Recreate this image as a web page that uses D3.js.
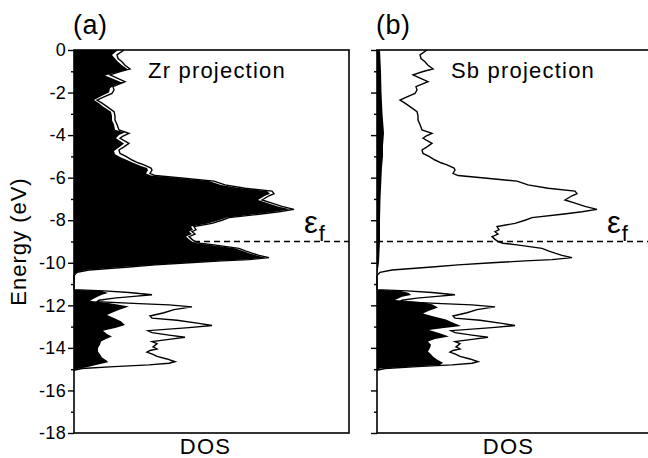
<!DOCTYPE html>
<html>
<head>
<meta charset="utf-8">
<script src="https://cdn.jsdelivr.net/npm/d3@7/dist/d3.min.js"></script>
<style>
    body { margin: 0; background: #fff; }
    svg { display: block; font-family: "Liberation Sans", Arial, sans-serif; }
</style>
</head>
<body>
<div id="chart"></div>
<script>
// [energy (eV), DOS (arb. units)]
// total DOS, drawn as the outline in both panels
const totalDOS = [
    [0, 5.0], [-0.23, 4.3], [-0.4, 4.4], [-0.55, 4.8], [-0.72, 5.1], [-0.89, 5.6], [-1.0, 4.7],
    [-1.17, 3.6], [-1.3, 4.2], [-1.49, 5.1], [-1.6, 4.5], [-1.72, 3.9], [-1.88, 4.0], [-2.04, 3.8],
    [-2.2, 3.0], [-2.35, 2.3], [-2.5, 2.8], [-2.66, 3.3], [-2.9, 4.0], [-3.1, 4.1], [-3.29, 4.1],
    [-3.5, 4.3], [-3.76, 4.5], [-3.92, 5.5], [-4.05, 4.9], [-4.15, 4.6], [-4.39, 5.5], [-4.55, 5.0],
    [-4.7, 4.5], [-4.86, 4.6], [-5.0, 5.2], [-5.17, 5.8], [-5.3, 6.4], [-5.4, 7.0], [-5.55, 7.7],
    [-5.64, 7.8], [-5.8, 7.6], [-5.9, 8.1], [-6.03, 11.0], [-6.16, 14.0], [-6.34, 15.1], [-6.5, 17.1],
    [-6.63, 19.8], [-6.75, 20.0], [-6.85, 19.5], [-7.05, 18.8], [-7.2, 19.8], [-7.35, 20.8],
    [-7.49, 22.0], [-7.6, 20.5], [-7.72, 18.5], [-7.88, 15.5], [-8.0, 14.8], [-8.15, 13.8],
    [-8.3, 12.0], [-8.45, 12.2], [-8.54, 11.8], [-8.65, 12.1], [-8.77, 11.5], [-8.9, 11.8],
    [-9.0, 12.1], [-9.08, 12.6], [-9.16, 14.0], [-9.32, 16.5], [-9.45, 17.2], [-9.55, 17.8],
    [-9.65, 18.5], [-9.76, 19.5], [-9.85, 17.5], [-9.91, 14.8], [-10.0, 11.5], [-10.1, 8.1],
    [-10.2, 5.5], [-10.34, 1.5], [-10.45, 0.3], [-10.6, 0], [-11.26, 0], [-11.32, 3.0],
    [-11.4, 5.5], [-11.5, 7.8], [-11.58, 6.0], [-11.66, 4.0], [-11.76, 2.5], [-11.83, 2.3],
    [-11.92, 6.5], [-11.98, 9.5], [-12.07, 11.8], [-12.2, 10.0], [-12.35, 9.0], [-12.5, 7.6],
    [-12.6, 7.8], [-12.7, 10.3], [-12.85, 12.5], [-12.95, 13.8], [-13.05, 11.5], [-13.19, 7.4],
    [-13.28, 7.8], [-13.4, 9.5], [-13.5, 11.1], [-13.6, 9.5], [-13.7, 7.8], [-13.8, 8.3],
    [-13.88, 8.1], [-13.95, 7.9], [-14.05, 8.3], [-14.12, 7.6], [-14.2, 7.3], [-14.3, 7.9],
    [-14.4, 8.3], [-14.52, 9.3], [-14.65, 10.1], [-14.72, 9.5], [-14.8, 7.5], [-14.88, 4.0],
    [-14.97, 0.8], [-15.05, 0]
];

// Zr projected DOS, panel (a)
const zrDOS = [
    [0, 4.4], [-0.23, 3.8], [-0.4, 4.1], [-0.55, 4.4], [-0.72, 4.8], [-0.92, 5.4], [-1.05, 4.3],
    [-1.2, 3.1], [-1.35, 3.9], [-1.55, 4.9], [-1.65, 4.1], [-1.8, 3.6], [-2.0, 3.5], [-2.15, 2.8],
    [-2.35, 2.0], [-2.5, 2.5], [-2.66, 2.9], [-2.9, 3.7], [-3.1, 3.8], [-3.3, 3.8], [-3.5, 4.0],
    [-3.75, 4.1], [-3.88, 5.1], [-4.0, 4.5], [-4.15, 4.2], [-4.4, 5.0], [-4.55, 4.6], [-4.75, 4.0],
    [-4.9, 4.1], [-5.05, 4.7], [-5.17, 5.3], [-5.3, 5.9], [-5.45, 6.7], [-5.55, 7.3], [-5.65, 7.4],
    [-5.8, 7.2], [-5.9, 7.7], [-6.03, 10.6], [-6.16, 13.5], [-6.34, 14.7], [-6.5, 16.7],
    [-6.63, 19.3], [-6.75, 19.6], [-6.85, 19.1], [-7.05, 18.4], [-7.2, 19.4], [-7.35, 20.4],
    [-7.49, 21.6], [-7.6, 20.1], [-7.72, 18.1], [-7.88, 15.2], [-8.0, 14.5], [-8.15, 13.4],
    [-8.3, 11.7], [-8.45, 11.9], [-8.54, 11.5], [-8.65, 11.8], [-8.77, 11.2], [-8.9, 11.5],
    [-9.0, 11.8], [-9.08, 12.3], [-9.16, 13.7], [-9.32, 16.1], [-9.45, 16.9], [-9.55, 17.5],
    [-9.65, 18.2], [-9.76, 19.2], [-9.85, 17.2], [-9.91, 14.5], [-10.0, 11.2], [-10.1, 7.8],
    [-10.2, 4.8], [-10.34, 1.2], [-10.45, 0.3], [-10.57, 0], [-11.27, 0], [-11.33, 2.8],
    [-11.42, 3.4], [-11.5, 2.8], [-11.58, 2.4], [-11.68, 2.0], [-11.78, 1.6], [-11.9, 3.6],
    [-12.05, 5.5], [-12.2, 4.6], [-12.35, 3.8], [-12.45, 3.3], [-12.6, 4.0], [-12.75, 4.7],
    [-12.92, 5.1], [-13.05, 4.2], [-13.2, 2.9], [-13.35, 3.3], [-13.46, 3.8], [-13.58, 3.2],
    [-13.7, 2.7], [-13.85, 2.6], [-14.0, 2.4], [-14.17, 2.4], [-14.3, 2.6], [-14.45, 2.8],
    [-14.6, 3.3], [-14.68, 3.4], [-14.8, 2.2], [-14.9, 1.4], [-15.03, 0]
];

// Sb projected DOS, panel (b)
const sbDOS = [
    [0, 0.3], [-1, 0.4], [-2, 0.45], [-3, 0.55], [-3.9, 0.7], [-4.5, 0.6], [-5, 0.6],
    [-5.5, 0.5], [-6, 0.45], [-7, 0.35], [-8, 0.3], [-9, 0.3], [-10, 0.2], [-10.3, 0.1],
    [-10.5, 0], [-11.27, 0], [-11.33, 2.4], [-11.42, 3.2], [-11.51, 3.4], [-11.6, 2.5],
    [-11.75, 1.8], [-11.85, 4.6], [-11.95, 5.5], [-12.1, 6.1], [-12.25, 5.2], [-12.38, 4.6],
    [-12.5, 5.5], [-12.66, 6.9], [-12.8, 7.5], [-12.97, 8.4], [-13.08, 6.5], [-13.16, 5.2],
    [-13.3, 6.2], [-13.47, 7.2], [-13.58, 5.8], [-13.7, 5.1], [-13.85, 5.4], [-14.0, 5.3],
    [-14.17, 5.1], [-14.3, 5.4], [-14.4, 5.6], [-14.55, 6.0], [-14.7, 6.6], [-14.8, 6.3],
    [-14.9, 3.0], [-14.97, 0.3], [-15.03, 0]
];

const majorTicks = [0, -2, -4, -6, -8, -10, -12, -14, -16, -18];
const minorTicks = [-1, -3, -5, -7, -9, -11, -13, -15, -17];
const panelLabels = ["(a)", "(b)"];
const projectionNames = ["Zr projection", "Sb projection"];
const projectedSeries = [zrDOS, sbDOS];
const fermiEnergy = -9;
const dosMax = 27.5;

let width = 648,
    height = 458,
    plotTop = 50,
    plotBottom = 433,
    panelWidth = 275,
    panelLefts = [74, 377];

let svg = d3.select("#chart").append("svg")
    .attr("width", width)
    .attr("height", height);

let y = d3.scaleLinear()
    .domain([0, -18])
    .range([plotTop, plotBottom]);

// y axis title
svg.append("text")
    .attr("transform", `translate(26,${(plotTop + plotBottom) / 2}) rotate(-90)`)
    .attr("text-anchor", "middle")
    .attr("font-size", 22)
    .attr("letter-spacing", 1)
    .text("Energy (eV)");

panelLefts.forEach((left, i) => {
    let x = d3.scaleLinear()
        .domain([0, dosMax])
        .range([left, left + panelWidth]);

    let g = svg.append("g");

    // Fermi level
    g.append("line")
        .attr("x1", x(0))
        .attr("x2", x(dosMax))
        .attr("y1", y(fermiEnergy))
        .attr("y2", y(fermiEnergy))
        .attr("stroke", "#000")
        .attr("stroke-width", 1.4)
        .attr("stroke-dasharray", "6,4");

    let area = d3.area()
        .y(d => y(d[0]))
        .x0(x(0))
        .x1(d => x(d[1]));

    let line = d3.line()
        .y(d => y(d[0]))
        .x(d => x(d[1]));

    g.append("path")
        .datum(projectedSeries[i])
        .attr("d", area)
        .attr("fill", "#000");

    g.append("path")
        .datum(totalDOS)
        .attr("d", line)
        .attr("fill", "none")
        .attr("stroke", "#000")
        .attr("stroke-width", 1.4);

    // frame
    g.append("rect")
        .attr("x", x(0))
        .attr("y", plotTop)
        .attr("width", panelWidth)
        .attr("height", plotBottom - plotTop)
        .attr("fill", "none")
        .attr("stroke", "#000")
        .attr("stroke-width", 1.6);

    let major = d3.axisLeft(y)
        .tickValues(majorTicks)
        .tickSize(6)
        .tickPadding(2);

    let minor = d3.axisLeft(y)
        .tickValues(minorTicks)
        .tickSize(3)
        .tickFormat("");

    let ga = g.append("g")
        .attr("transform", `translate(${x(0)},0)`)
        .call(major);
    let gm = g.append("g")
        .attr("transform", `translate(${x(0)},0)`)
        .call(minor);

    [ga, gm].forEach(a => {
        a.select(".domain").remove();
        a.selectAll("line").attr("stroke", "#000").attr("stroke-width", 1.4);
    });
    ga.selectAll("text")
        .attr("fill", "#000")
        .attr("font-size", 18)
        .attr("font-family", "Liberation Sans, Arial, sans-serif")
        .attr("letter-spacing", 0.3)
        .text(d => i === 0 ? String(d) : "");

    g.append("text")
        .attr("x", left - 1)
        .attr("y", 34)
        .attr("font-size", 27)
        .attr("letter-spacing", 0.5)
        .text(panelLabels[i]);

    g.append("text")
        .attr("x", left + 74)
        .attr("y", 78)
        .attr("font-size", 22)
        .attr("letter-spacing", 1.2)
        .text(projectionNames[i]);

    g.append("text")
        .attr("x", left + panelWidth / 2 - 6)
        .attr("y", 454)
        .attr("text-anchor", "middle")
        .attr("font-size", 22)
        .attr("letter-spacing", 1.2)
        .text("DOS");

    let ef = g.append("text")
        .attr("x", left + 230)
        .attr("y", 233)
        .attr("font-size", 31)
        .text("ε");
    ef.append("tspan")
        .attr("font-size", 22)
        .attr("dx", 1)
        .attr("dy", 8)
        .text("f");
});
</script>
</body>
</html>
